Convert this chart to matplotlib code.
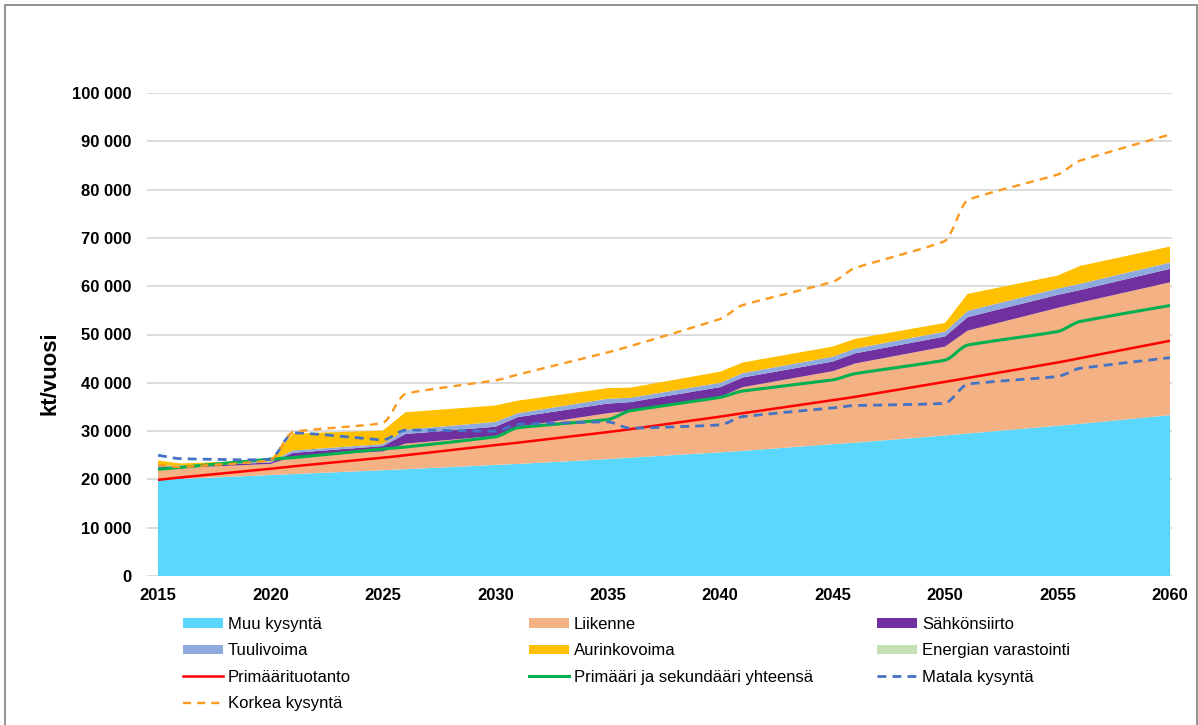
import numpy as np
import matplotlib
matplotlib.use("Agg")
import matplotlib.pyplot as plt
from matplotlib.path import Path
from matplotlib.patches import PathPatch, Patch, Rectangle
from matplotlib.lines import Line2D
from matplotlib.ticker import FuncFormatter, MultipleLocator

plt.rcParams['font.family'] = ['Liberation Sans', 'DejaVu Sans']

# ---- data (kt/vuosi) -------------------------------------------------------
years = [2015, 2016, 2020, 2021, 2025, 2026, 2030, 2031, 2035, 2036,
         2040, 2041, 2045, 2046, 2050, 2051, 2055, 2056, 2060]

muu_kysynta = [19900, 20100, 20900, 21100, 21900, 22100, 23000, 23200, 24200, 24500,
               25600, 25900, 27300, 27600, 29100, 29500, 31100, 31500, 33300]
liikenne = [2300, 2300, 2300, 3600, 3900, 5300, 6000, 7700, 9500, 9700,
            11500, 13200, 15100, 16400, 18400, 21300, 24400, 25100, 27500]
sahkonsiirto = [300, 300, 300, 800, 1100, 2000, 1900, 2000, 2000, 1800,
                2000, 2000, 2000, 2100, 2100, 2800, 2700, 2600, 2800]
tuulivoima = [300, 200, 200, 500, 400, 900, 1000, 800, 1000, 900,
              900, 900, 1000, 1000, 1000, 1300, 1300, 1300, 1300]
aurinkovoima = [1100, 400, 300, 3500, 2800, 3600, 3400, 2600, 2200, 2100,
                2300, 2200, 2100, 2000, 1800, 3500, 2700, 3700, 3300]
energian_varastointi = [0] * len(years)

primaarituotanto = [19900, 20400, 22200, 22700, 24500, 25000, 27100, 27600, 29800, 30400,
                    33000, 33700, 36400, 37100, 40200, 41000, 44200, 45100, 48700]
primaari_ja_sekundaari = [22100, 22500, 24200, 24500, 26300, 26700, 28800, 30700, 32400, 34200,
                          37000, 38300, 40600, 41900, 44700, 47800, 50600, 52700, 56000]
matala_kysynta = [25000, 24300, 24200, 29600, 28200, 30200, 30000, 31400, 31900, 30600,
                  31300, 33000, 34800, 35300, 35800, 39700, 41300, 43000, 45200]
korkea_kysynta = [23000, 22600, 24000, 29800, 31700, 37700, 40500, 41700, 46300, 47600,
                  53200, 56100, 60900, 63800, 69400, 77800, 83100, 86000, 91400]

area_labels = ["Muu kysyntä", "Liikenne", "Sähkönsiirto", "Tuulivoima",
               "Aurinkovoima", "Energian varastointi"]
area_colors = ["#5AD7FF", "#F4B183", "#7030A0", "#8FAADC", "#FFC000", "#C5E0B4"]

x_ticks = list(range(2015, 2061, 5))


def smooth_path(xs, ys):
    """Cubic Bezier path through the points with rounded corners."""
    xs = np.asarray(xs, float)
    ys = np.asarray(ys, float)
    h = np.diff(xs)
    s = np.diff(ys) / h
    m = np.empty_like(ys)
    m[0], m[-1] = s[0], s[-1]
    m[1:-1] = (h[:-1] * s[:-1] + h[1:] * s[1:]) / (h[:-1] + h[1:])
    verts = [(xs[0], ys[0])]
    codes = [Path.MOVETO]
    for i in range(len(h)):
        d = min(h[i], 1.0) / 3.0
        verts += [(xs[i] + d, ys[i] + m[i] * d),
                  (xs[i + 1] - d, ys[i + 1] - m[i + 1] * d),
                  (xs[i + 1], ys[i + 1])]
        codes += [Path.CURVE4] * 3
    return Path(verts, codes)


W, H = 1198, 725
fig = plt.figure(figsize=(W / 100, H / 100), dpi=100)
fig.patch.set_facecolor("white")

# plot area in pixels
px_left, px_right, px_top, px_bottom = 147, 1172, 93, 576
ax = fig.add_axes([px_left / W, 1 - px_bottom / H,
                   (px_right - px_left) / W, (px_bottom - px_top) / H])

ax.stackplot(years, muu_kysynta, liikenne, sahkonsiirto, tuulivoima,
             aurinkovoima, energian_varastointi,
             colors=area_colors, labels=area_labels, linewidth=0, zorder=2)

line_specs = [
    (primaarituotanto, "Primäärituotanto", "#FF0000", 1.8, "-"),
    (primaari_ja_sekundaari, "Primääri ja sekundääri yhteensä", "#00B050", 2.2, "-"),
    (matala_kysynta, "Matala kysyntä", "#4472C4", 2.0, (0, (3.2, 2.2))),
    (korkea_kysynta, "Korkea kysyntä", "#FB9A1E", 1.7, (0, (3.4, 2.6))),
]
line_handles = {}
for vals, lab, col, lw, ls in line_specs:
    patch = PathPatch(smooth_path(years, vals), facecolor="none", edgecolor=col,
                      linewidth=lw, linestyle=ls, capstyle="butt", zorder=4)
    ax.add_patch(patch)
    line_handles[lab] = Line2D([], [], color=col, linewidth=lw, linestyle=ls,
                               dash_capstyle="butt")

# axes styling
ax.set_xlim(2015 - (158 - px_left) / 22.49, 2060 + (px_right - 1170) / 22.49)
ax.set_ylim(0, 100000)
ax.set_xticks(x_ticks)
ax.yaxis.set_major_locator(MultipleLocator(10000))
ax.yaxis.set_major_formatter(FuncFormatter(lambda v, p: f"{int(v):,}".replace(",", " ")))
ax.tick_params(axis="both", length=0, labelsize=12)
ax.tick_params(axis="y", pad=11.5)
ax.tick_params(axis="x", pad=9)
for lab in ax.get_xticklabels() + ax.get_yticklabels():
    lab.set_fontweight("bold")
for sp in ax.spines.values():
    sp.set_visible(False)
ax.grid(axis="y", color="#D9D9D9", linewidth=1.3)
ax.set_axisbelow(True)

ax.set_ylabel("kt/vuosi", fontsize=16, fontweight="bold")
ax.yaxis.label.set_verticalalignment("center")
ax.yaxis.set_label_coords((50 - px_left) / (px_right - px_left),
                          (px_bottom - 373) / (px_bottom - px_top))

# legend in three columns
area_handles = {lab: Patch(facecolor=c, edgecolor="none") for lab, c in zip(area_labels, area_colors)}
allh = {**area_handles, **line_handles}
columns = [
    (183, ["Muu kysyntä", "Tuulivoima", "Primäärituotanto", "Korkea kysyntä"]),
    (529, ["Liikenne", "Aurinkovoima", "Primääri ja sekundääri yhteensä"]),
    (877, ["Sähkönsiirto", "Energian varastointi", "Matala kysyntä"]),
]
for xpix, labs in columns:
    fig.legend([allh[l] for l in labs], labs, loc="upper left",
               bbox_to_anchor=(xpix / W, 1 - 617 / H), frameon=False,
               fontsize=12, handlelength=2.4, handleheight=0.5,
               handletextpad=0.3, labelspacing=0.68, borderpad=0,
               borderaxespad=0)

# outer chart border
fig.add_artist(Rectangle((5 / W, -0.05), (W - 6) / W, 1.05 - 5 / H,
                         transform=fig.transFigure, fill=False,
                         edgecolor="#7F7F7F", linewidth=1.2))

fig.savefig("out.png", dpi=100, facecolor="white")
